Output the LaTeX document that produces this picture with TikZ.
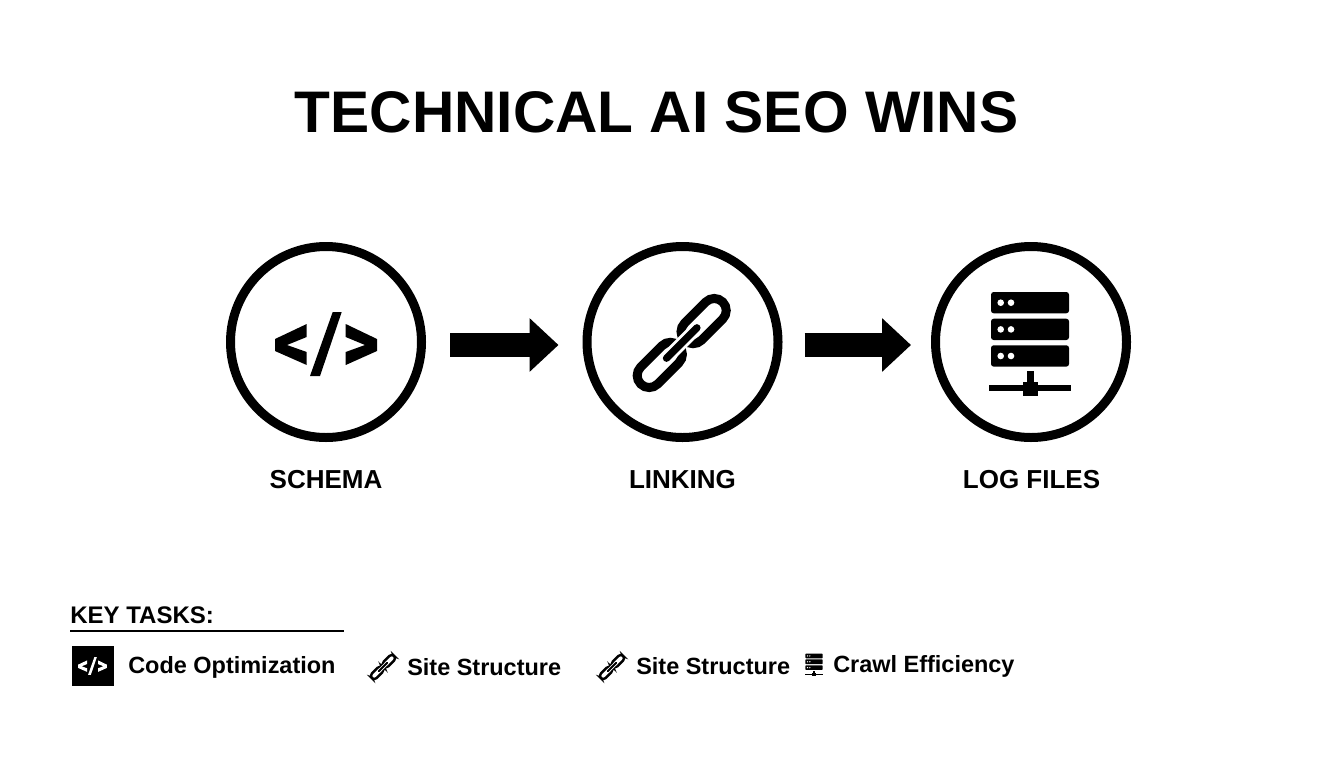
\documentclass[tikz,border=0pt]{standalone}
\usepackage{fontspec}
\setmainfont{Liberation Sans}
\usetikzlibrary{arrows.meta, positioning}

\tikzset{
	stepcircle/.style={draw, circle, line width=6.75pt, minimum size=143.25pt, inner sep=0pt},
	steplabel/.style={font=\fontsize{19.5pt}{22pt}\selectfont\bfseries, inner sep=0pt},
	tasklabel/.style={font=\fontsize{17.6pt}{20pt}\selectfont\bfseries, inner sep=0pt, anchor=west},
	bigarrow/.style={line width=17.6pt, -{Triangle[length=21.75pt, width=39pt]}}
}

\newcommand{\codeicon}[4]{
	\begin{scope}[shift={(#1,#2)}, scale=#3]
		\fill[#4] (-19.3,-20) -- (-51,-5) -- (-51,7) -- (-19.3,21) -- (-19.3,8) -- (-39,1) -- (-19.3,-7) -- cycle;
		\fill[#4] (19.7,-20) -- (51,-5) -- (51,7) -- (19.7,21) -- (19.7,8) -- (39,1) -- (19.7,-7) -- cycle;
		\fill[#4] (6.7,-32) -- (15.7,-32) -- (-6,32) -- (-16,32) -- cycle;
	\end{scope}
}

\newcommand{\linkicon}[3]{
	\begin{scope}[shift={(#1,#2)}, scale=#3, rotate=45]
		\draw[line width=#3*6.75pt, rounded corners=#3*9pt] (-58,-12) rectangle (-4,12);
		\draw[line width=#3*6.75pt, rounded corners=#3*9pt] (4,-12) rectangle (58,12);
		\draw[white, line width=#3*9.75pt, line cap=round] (-21.5,0) -- (21.5,0);
		\draw[line width=#3*5.5pt, line cap=round] (-21.5,0) -- (21.5,0);
	\end{scope}
}

\newcommand{\servericon}[3]{
	\begin{scope}[shift={(#1,#2)}, scale=#3]
		\foreach \rowy in {-52,-25.3,1.3} {
			\fill[rounded corners=#3*2pt] (-39,\rowy) rectangle (39,\rowy+21.3);
			\fill[white] (-29.3,\rowy+10.7) circle (3.3);
			\fill[white] (-19,\rowy+10.7) circle (3.3);
		}
		\fill (-3,27) rectangle (3.7,39);
		\fill (-7.3,37.7) rectangle (7.7,51.7);
		\fill (-40.7,40.7) rectangle (40.7,47.3);
	\end{scope}
}

\begin{document}
\begin{tikzpicture}[x=0.75pt, y=-0.75pt]
	\useasboundingbox (0,0) rectangle (1344,768);

	\node[font=\fontsize{44pt}{50pt}\selectfont\bfseries, inner sep=0pt] (title) at (656.5,112) {TECHNICAL AI SEO WINS};

	\node[stepcircle] (schema) at (326,342) {};
	\node[stepcircle] (linking) at (682.5,342) {};
	\node[stepcircle] (logfiles) at (1031,342) {};

	\node[steplabel] (schemalabel) at (326,480) {SCHEMA};
	\node[steplabel] (linkinglabel) at (682.5,480) {LINKING};
	\node[steplabel] (logfileslabel) at (1031.5,480) {LOG FILES};

	\draw[bigarrow, shorten <=18pt, shorten >=18pt] ([yshift=-2.25pt]schema.east) -- ([yshift=-2.25pt]linking.west);
	\draw[bigarrow, shorten <=16.5pt, shorten >=15pt] ([yshift=-2.25pt]linking.east) -- ([yshift=-2.25pt]logfiles.west);

	\codeicon{326}{344}{1}{black}
	\linkicon{681.7}{343}{1}
	\servericon{1030}{344}{1}

	\node[font=\fontsize{18pt}{20pt}\selectfont\bfseries, inner sep=0pt, anchor=west] (keytasks) at (70,615) {KEY TASKS:};
	\coordinate (rulestart) at (70,631);
	\coordinate (ruleend) at (344,631);
	\draw[line width=1.5pt] (rulestart) -- (ruleend);

	\node[fill=black, minimum width=32pt, minimum height=30pt, inner sep=0pt] (codebox) at (93,666) {};
	\codeicon{92.5}{666}{0.28}{white}
	\node[tasklabel] (codetask) at (128,667) {Code Optimization};

	\linkicon{383}{667}{0.27}
	\node[tasklabel] (sitetaskone) at (407,667) {Site Structure};

	\linkicon{612}{667}{0.27}
	\node[tasklabel] (sitetasktwo) at (636,666) {Site Structure};

	\servericon{814}{665}{0.22}
	\node[tasklabel] (crawltask) at (833,666) {Crawl Efficiency};
\end{tikzpicture}
\end{document}
